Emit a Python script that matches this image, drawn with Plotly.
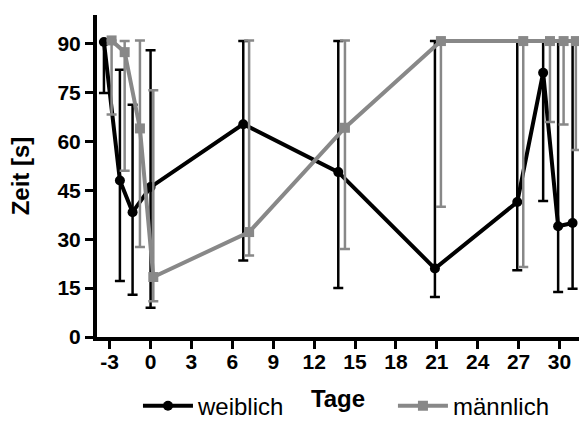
import plotly.graph_objects as go

# Data
days_w = [-3.42, -2.25, -1.32, 0.0, 6.8, 13.77, 20.86, 26.9, 28.8, 29.9, 30.96]
mean_w = [90.5, 48.0, 38.3, 46.0, 65.3, 50.6, 21.0, 41.4, 81.1, 34.0, 35.0]
upper_w = [90.5, 82.0, 71.3, 88.0, 90.8, 90.8, 90.8, 90.8, 90.8, 90.8, 90.8]
lower_w = [74.9, 17.2, 13.0, 9.0, 23.5, 15.0, 12.3, 20.5, 41.7, 13.8, 14.8]

days_m = [-2.86, -1.9, -0.78, 0.2, 7.23, 14.26, 21.3, 27.34, 29.3, 30.3, 31.2]
mean_m = [91.0, 87.4, 64.0, 18.4, 32.2, 64.2, 90.8, 90.8, 90.8, 90.8, 90.8]
upper_m = [91.0, 90.8, 91.0, 75.7, 91.0, 91.0, 90.8, 90.8, 90.8, 90.8, 90.8]
lower_m = [68.3, 51.0, 27.6, 11.0, 25.0, 27.0, 40.0, 21.5, 66.0, 65.2, 57.4]

x_ticks = [-3, 0, 3, 6, 9, 12, 15, 18, 21, 24, 27, 30]
y_ticks = [0, 15, 30, 45, 60, 75, 90]

BLACK = "#000000"
GRAY = "#888888"
FONT = "Liberation Sans, Arial, sans-serif"

fig = go.Figure()

fig.add_trace(go.Scatter(
    x=days_w, y=mean_w, name="weiblich", mode="lines+markers",
    line=dict(color=BLACK, width=4),
    marker=dict(symbol="circle", size=10, color=BLACK),
    error_y=dict(type="data", symmetric=False,
                 array=[u - m for u, m in zip(upper_w, mean_w)],
                 arrayminus=[m - l for m, l in zip(mean_w, lower_w)],
                 color=BLACK, thickness=2.5, width=5),
    legend="legend",
))
fig.add_trace(go.Scatter(
    x=days_m, y=mean_m, name="männlich", mode="lines+markers",
    line=dict(color=GRAY, width=4),
    marker=dict(symbol="square", size=10, color=GRAY),
    error_y=dict(type="data", symmetric=False,
                 array=[u - m for u, m in zip(upper_m, mean_m)],
                 arrayminus=[m - l for m, l in zip(mean_m, lower_m)],
                 color=GRAY, thickness=2.5, width=5),
    legend="legend2",
))

leg_common = dict(
    orientation="h", yanchor="middle", xanchor="left",
    font=dict(size=24, family=FONT, color="black"),
    itemwidth=50, bgcolor="rgba(0,0,0,0)",
)

fig.update_layout(
    width=579, height=425,
    margin=dict(l=97, r=0, t=15, b=88, autoexpand=False),
    paper_bgcolor="white", plot_bgcolor="white",
    font=dict(family=FONT, color="black"),
    showlegend=True,
    legend=dict(x=0.085, y=-0.215, **leg_common),
    legend2=dict(x=0.614, y=-0.215, **leg_common),
)

fig.update_xaxes(
    range=[-3.93, 31.43], tickvals=x_ticks, ticktext=[str(t) for t in x_ticks],
    showline=True, linecolor="black", linewidth=4,
    ticks="outside", ticklen=8, tickwidth=3, tickcolor="black",
    showgrid=False, zeroline=False, automargin=False,
    ticklabelstandoff=-5,
    tickfont=dict(size=21, family=FONT, color="black", weight="bold"),
    title=dict(text="<b>Tage</b>", font=dict(size=24, family=FONT, color="black"), standoff=19),
)
fig.update_yaxes(
    range=[0, 98.8], tickvals=y_ticks, ticktext=[str(t) for t in y_ticks],
    showline=True, linecolor="black", linewidth=4,
    ticks="outside", ticklen=8, tickwidth=3, tickcolor="black",
    showgrid=False, zeroline=False, automargin=False,
    tickfont=dict(size=21, family=FONT, color="black", weight="bold"),
    title=dict(text="<b>Zeit [s]</b>", font=dict(size=24, family=FONT, color="black"), standoff=22),
)

fig.write_html(
    "out.html",
    config={"displayModeBar": False},
    post_script="document.body.style.margin='0';document.body.style.overflow='hidden';",
)
